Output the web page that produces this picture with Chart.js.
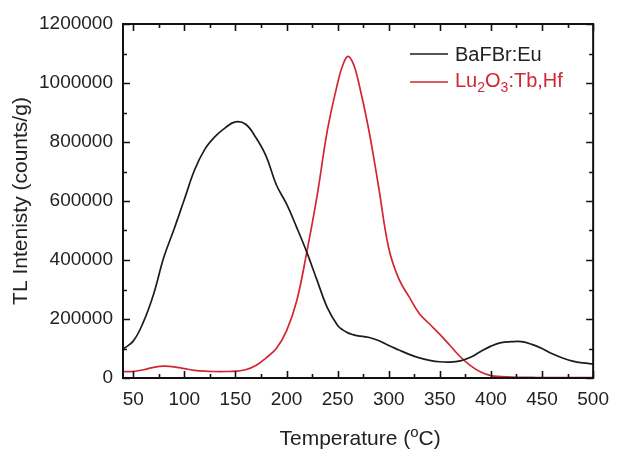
<!DOCTYPE html>
<html>
<head>
<meta charset="utf-8">
<script src="https://cdn.jsdelivr.net/npm/chart.js@4.4.1/dist/chart.umd.min.js"></script>
<style>
  html, body { margin: 0; padding: 0; background: #ffffff; }
  #wrap { width: 619px; height: 450px; position: relative; }
</style>
</head>
<body>
<div id="wrap"><canvas id="c" width="619" height="450"></canvas></div>
<script>
// ---- data ----
const temps = [40, 50, 60, 70, 80, 90, 100, 110, 120, 130, 140, 150, 160, 170, 180, 190, 200, 210, 220, 230, 240, 250, 255, 260, 265, 270, 280, 290, 300, 310, 320, 330, 340, 350, 360, 370, 380, 390, 400, 410, 420, 430, 440, 450, 460, 470, 480, 490, 500];
const bafbrEu = [98000, 125000, 190000, 285000, 410000, 505000, 605000, 705000, 775000, 818000, 848000, 868000, 860000, 815000, 752000, 655000, 590000, 510000, 425000, 330000, 238000, 178000, 163000, 153000, 147000, 143000, 138000, 127000, 110000, 95000, 80000, 68000, 60000, 55000, 54000, 58000, 70000, 90000, 108000, 120000, 123000, 123000, 114000, 100000, 82000, 68000, 57000, 51000, 48000];
const lu2o3TbHf = [22000, 22000, 28000, 36000, 40000, 38000, 32000, 26000, 23000, 22000, 22000, 23000, 28000, 42000, 68000, 100000, 160000, 262000, 430000, 620000, 840000, 1000000, 1060000, 1090000, 1068000, 1010000, 850000, 650000, 440000, 335000, 275000, 218000, 183000, 148000, 110000, 72000, 42000, 20000, 8000, 5000, 3000, 2500, 2000, 1500, 1500, 1000, 1000, 1000, 1000];
const seriesNames = ['BaFBr:Eu', 'Lu2O3:Tb,Hf'];
const xTickLabels = [50, 100, 150, 200, 250, 300, 350, 400, 450, 500];
const xMinorTicks = [75, 125, 175, 225, 275, 325, 375, 425, 475];
const yTickLabels = [0, 200000, 400000, 600000, 800000, 1000000, 1200000];
const yMinorTicks = [100000, 300000, 500000, 700000, 900000, 1100000];
const xTitleParts = ['Temperature (', 'o', 'C)'];
const yTitle = 'TL Intenisty (counts/g)';

const BLACK = '#1c1c1c';
const RED = '#d42632';
const FONT = "'Liberation Sans', Arial, sans-serif";

function toPoints(xs, ys) { return xs.map((x, i) => ({ x: x, y: ys[i] })); }

const decorPlugin = {
  id: 'decor',
  afterDraw(chart) {
    const ctx = chart.ctx;
    const a = chart.chartArea;
    const xs = chart.scales.x, ys = chart.scales.y;
    ctx.save();
    // tick marks (inward, all four sides)
    ctx.strokeStyle = '#111';
    ctx.lineWidth = 1.6;
    const major = 7, minor = 4;
    ctx.beginPath();
    xTickLabels.forEach(v => {
      const p = Math.round(xs.getPixelForValue(v)) + 0.5;
      ctx.moveTo(p, a.bottom); ctx.lineTo(p, a.bottom - major);
      ctx.moveTo(p, a.top); ctx.lineTo(p, a.top + major);
    });
    xMinorTicks.forEach(v => {
      const p = Math.round(xs.getPixelForValue(v)) + 0.5;
      ctx.moveTo(p, a.bottom); ctx.lineTo(p, a.bottom - minor);
      ctx.moveTo(p, a.top); ctx.lineTo(p, a.top + minor);
    });
    yTickLabels.forEach(v => {
      const p = Math.round(ys.getPixelForValue(v)) + 0.5;
      ctx.moveTo(a.left, p); ctx.lineTo(a.left + major, p);
      ctx.moveTo(a.right, p); ctx.lineTo(a.right - major, p);
    });
    yMinorTicks.forEach(v => {
      const p = Math.round(ys.getPixelForValue(v)) + 0.5;
      ctx.moveTo(a.left, p); ctx.lineTo(a.left + minor, p);
      ctx.moveTo(a.right, p); ctx.lineTo(a.right - minor, p);
    });
    ctx.stroke();
    // frame
    ctx.lineWidth = 2;
    ctx.strokeStyle = '#111';
    ctx.strokeRect(a.left, a.top, a.right - a.left, a.bottom - a.top);

    // legend
    const lx0 = 410, lx1 = 448, tx = 455;
    ctx.lineWidth = 1.6;
    ctx.strokeStyle = BLACK;
    ctx.beginPath(); ctx.moveTo(lx0, 54); ctx.lineTo(lx1, 54); ctx.stroke();
    ctx.strokeStyle = RED;
    ctx.beginPath(); ctx.moveTo(lx0, 82); ctx.lineTo(lx1, 82); ctx.stroke();
    ctx.textBaseline = 'alphabetic';
    ctx.textAlign = 'left';
    ctx.fillStyle = '#222';
    ctx.font = '20px ' + FONT;
    ctx.fillText(seriesNames[0], tx, 61);
    // Lu2O3:Tb,Hf with subscripts
    ctx.fillStyle = RED;
    let x = tx;
    const big = '20px ' + FONT, small = '14px ' + FONT;
    const parts = [['Lu', big, 0], ['2', small, 5], ['O', big, 0], ['3', small, 5], [':Tb,Hf', big, 0]];
    parts.forEach(([t, f, dy]) => {
      ctx.font = f;
      ctx.fillText(t, x, 87 + dy);
      x += ctx.measureText(t).width;
    });

    // x axis title with superscript
    ctx.fillStyle = '#222';
    const tf = '21px ' + FONT, sf = '15px ' + FONT;
    ctx.font = tf; const w0 = ctx.measureText(xTitleParts[0]).width;
    ctx.font = sf; const w1 = ctx.measureText(xTitleParts[1]).width;
    ctx.font = tf; const w2 = ctx.measureText(xTitleParts[2]).width;
    let sx = (a.left + a.right) / 2 - (w0 + w1 + w2) / 2 + 2;
    const by = 445;
    ctx.font = tf; ctx.fillText(xTitleParts[0], sx, by); sx += w0;
    ctx.font = sf; ctx.fillText(xTitleParts[1], sx, by - 8); sx += w1;
    ctx.font = tf; ctx.fillText(xTitleParts[2], sx, by);
    ctx.restore();
  }
};

new Chart(document.getElementById('c'), {
  type: 'line',
  data: {
    datasets: [
      { label: seriesNames[0], data: toPoints(temps, bafbrEu), borderColor: BLACK, borderWidth: 1.7, pointRadius: 0, tension: 0.4, fill: false },
      { label: seriesNames[1], data: toPoints(temps, lu2o3TbHf), borderColor: RED, borderWidth: 1.7, pointRadius: 0, tension: 0.4, fill: false }
    ]
  },
  options: {
    responsive: false,
    animation: false,
    devicePixelRatio: 1,
    layout: { padding: { left: 0, top: 24, right: 17, bottom: 0 } },
    plugins: { legend: { display: false }, tooltip: { enabled: false } },
    scales: {
      x: {
        type: 'linear', min: 40, max: 500,
        grid: { display: false, drawTicks: false },
        border: { display: false },
        afterBuildTicks: s => { s.ticks = xTickLabels.map(v => ({ value: v })); },
        afterFit: s => { s.height = 72; },
        ticks: { font: { size: 19, family: FONT }, color: '#222', padding: 10, maxRotation: 0, autoSkip: false, callback: v => String(v) }
      },
      y: {
        type: 'linear', min: 0, max: 1200000,
        grid: { display: false, drawTicks: false },
        border: { display: false },
        afterBuildTicks: s => { s.ticks = yTickLabels.map(v => ({ value: v })); },
        afterFit: s => { s.width = 123; },
        title: { display: true, text: yTitle, font: { size: 21, family: FONT }, color: '#222', padding: { top: 9, bottom: 0 } },
        ticks: { font: { size: 19, family: FONT }, color: '#222', padding: 10, autoSkip: false, callback: v => String(v) }
      }
    }
  },
  plugins: [decorPlugin]
});
</script>
</body>
</html>
